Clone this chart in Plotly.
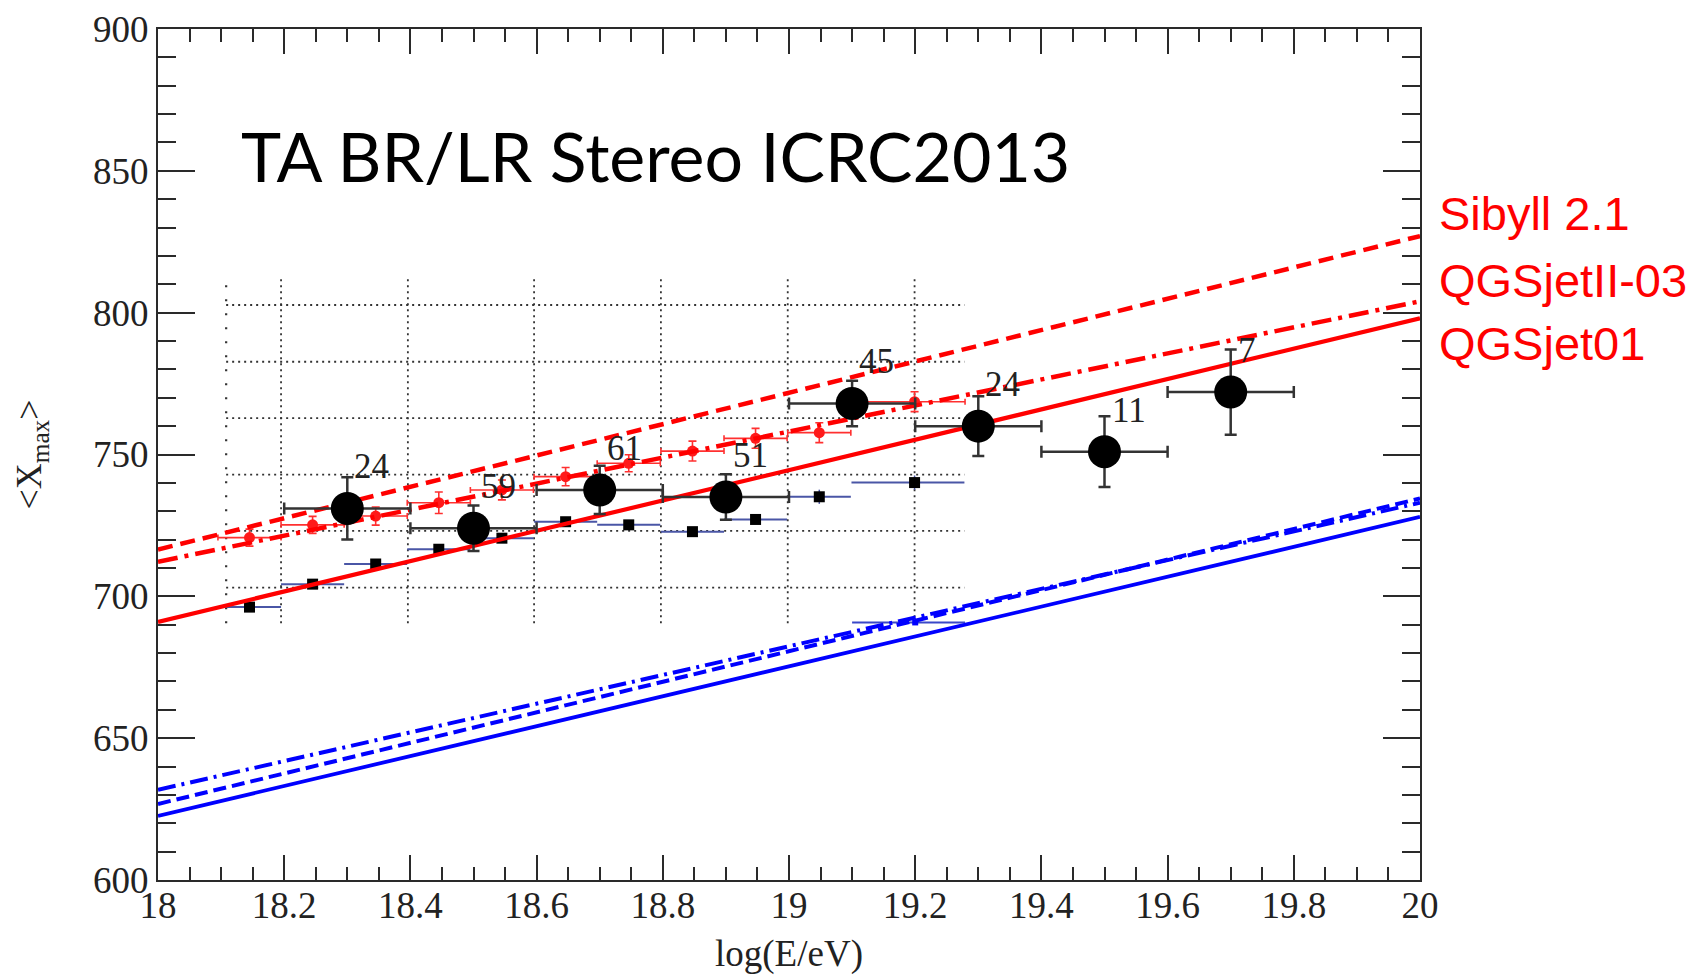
import plotly.graph_objects as go

# ---------------- data ----------------
# main TA BR/LR stereo points
ta_x = [18.3, 18.5, 18.7, 18.9, 19.1, 19.3, 19.5, 19.7]
ta_y = [731, 724, 737.5, 735, 768, 760, 751, 772]
ta_yerr = [11, 8, 8.5, 8, 8, 10.5, 12.5, 15]
ta_xerr = [0.1, 0.1, 0.1, 0.1, 0.1, 0.1, 0.1, 0.1]
ta_counts = ["24", "59", "61", "51", "45", "24", "11", "7"]

# inset: red points
in_red_x = [18.145, 18.245, 18.345, 18.445, 18.545, 18.646, 18.746, 18.847, 18.947, 19.048, 19.199]
in_red_y = [720.7, 725.2, 728.3, 733.0, 737.5, 742.2, 746.9, 751.2, 755.7, 757.7, 768.6]
in_red_yerr = [3, 3, 3.2, 3.8, 3.5, 3.2, 3, 3.5, 3.5, 3.5, 3.5]
in_red_xerr = [0.05, 0.05, 0.05, 0.05, 0.05, 0.05, 0.05, 0.05, 0.05, 0.05, 0.08]

# inset: black squares
in_sq_x = [18.145, 18.245, 18.345, 18.445, 18.545, 18.646, 18.746, 18.847, 18.947, 19.048, 19.199]
in_sq_y = [696.2, 704.3, 711.4, 716.6, 720.5, 726.3, 725.2, 722.8, 727.1, 735.1, 740.1]
in_sq_xerr_plus = [0.05, 0.05, 0.05, 0.05, 0.05, 0.05, 0.05, 0.05, 0.05, 0.05, 0.079]
in_sq_xerr_minus = [0.037, 0.05, 0.05, 0.05, 0.05, 0.05, 0.05, 0.05, 0.05, 0.05, 0.1]
in_sq_yerr = [1.5, 1.5, 1.5, 1.5, 1.5, 1.5, 1.5, 1.5, 1.5, 2.5, 2.5]

# inset: clipped point at the bottom edge
in_low_x = [19.2]
in_low_y = [690.8]
in_low_xerr_plus = [0.079]
in_low_xerr_minus = [0.1]

# model lines (endpoints at log E = 18 and 20)
line_x = [18.0, 20.0]
p_sibyll = [716.5, 827.0]
p_qgsjet2 = [712.2, 804.0]
p_qgsjet01 = [691.0, 798.0]
fe_sibyll = [626.8, 734.5]
fe_qgsjet2 = [631.8, 733.0]
fe_qgsjet01 = [622.6, 728.0]

# inset grid
inset_grid_x = [18.195, 18.396, 18.596, 18.797, 18.998, 19.199]
inset_grid_y = [703.1, 723.1, 742.9, 762.8, 782.7, 802.7]
inset_x_range = [18.108, 19.278]
inset_y_range = [690.5, 812.7]

model_names = ["Sibyll 2.1", "QGSjetII-03", "QGSjet01"]
x_ticks = [18, 18.2, 18.4, 18.6, 18.8, 19, 19.2, 19.4, 19.6, 19.8, 20]
y_ticks = [600, 650, 700, 750, 800, 850, 900]

SERIF = "Liberation Serif, Times New Roman, serif"
AX = "#2a2a2a"

fig = go.Figure()

# inset grid as shapes
shapes = []
for gx in inset_grid_x:
    shapes.append(dict(type="line", xref="x", yref="y", x0=gx, x1=gx,
                       y0=inset_y_range[0], y1=inset_y_range[1],
                       line=dict(color="#333", width=1.8, dash="2px,4px"), layer="below"))
for gy in inset_grid_y:
    shapes.append(dict(type="line", xref="x", yref="y", x0=inset_x_range[0], x1=inset_x_range[1],
                       y0=gy, y1=gy,
                       line=dict(color="#333", width=1.8, dash="2px,4px"), layer="below"))
# inset left axis
shapes.append(dict(type="line", xref="x", yref="y", x0=inset_x_range[0], x1=inset_x_range[0],
                   y0=inset_y_range[0], y1=inset_y_range[1],
                   line=dict(color="#333", width=2.2, dash="2px,12px"), layer="below"))

# inset black squares with blue bars
fig.add_trace(go.Scatter(
    x=in_sq_x, y=in_sq_y, mode="markers",
    marker=dict(symbol="square", size=11, color="black"),
    error_x=dict(type="data", symmetric=False, array=in_sq_xerr_plus, arrayminus=in_sq_xerr_minus,
                 color="#4a56a6", thickness=2, width=0),
    error_y=dict(type="data", array=in_sq_yerr, color="#4a56a6", thickness=1.5, width=0),
    showlegend=False, hoverinfo="skip"))

fig.add_trace(go.Scatter(
    x=in_low_x, y=in_low_y, mode="markers",
    marker=dict(symbol="square", size=6, color="blue"),
    error_x=dict(type="data", symmetric=False, array=in_low_xerr_plus, arrayminus=in_low_xerr_minus,
                 color="#3a48c8", thickness=2, width=0),
    showlegend=False, hoverinfo="skip"))

# inset red points
fig.add_trace(go.Scatter(
    x=in_red_x, y=in_red_y, mode="markers",
    marker=dict(symbol="circle", size=11, color="#ff1a1a"),
    error_x=dict(type="data", array=in_red_xerr, color="#ff3030", thickness=1.6, width=3),
    error_y=dict(type="data", array=in_red_yerr, color="#ff3030", thickness=1.6, width=4),
    showlegend=False, hoverinfo="skip"))

# model lines
def add_line(y, color, dash, width):
    fig.add_trace(go.Scatter(x=line_x, y=y, mode="lines",
                             line=dict(color=color, dash=dash, width=width),
                             showlegend=False, hoverinfo="skip"))

add_line(p_sibyll, "#ff0000", "15px,8px", 4.5)
add_line(p_qgsjet2, "#ff0000", "20px,7px,4px,7px", 4.5)
add_line(p_qgsjet01, "#ff0000", "solid", 4.2)
add_line(fe_sibyll, "#0000ff", "13px,6px", 4)
add_line(fe_qgsjet2, "#0000ff", "18px,6px,3px,6px", 4)
add_line(fe_qgsjet01, "#0000ff", "solid", 3.8)

# main data points
fig.add_trace(go.Scatter(
    x=ta_x, y=ta_y, mode="markers",
    marker=dict(symbol="circle", size=33, color="black"),
    error_x=dict(type="data", array=ta_xerr, color="#333", thickness=2.5, width=6),
    error_y=dict(type="data", array=ta_yerr, color="#333", thickness=2.5, width=6),
    showlegend=False, hoverinfo="skip"))

annotations = []
for xi, yi, c in zip(ta_x, ta_y, ta_counts):
    annotations.append(dict(x=xi, y=yi, xref="x", yref="y", text=c, showarrow=False,
                            xanchor="left", yanchor="bottom", xshift=5, yshift=20,
                            font=dict(family=SERIF, size=35, color="#222")))

annotations.append(dict(x=0.0645, y=0.851, xref="paper", yref="paper",
                        text="TA BR/LR Stereo ICRC2013", showarrow=False,
                        xanchor="left", yanchor="middle",
                        font=dict(family="Lato, Open Sans, sans-serif", size=68, color="black")))

label_y = [0.783, 0.704, 0.6307]
for name, ly in zip(model_names, label_y):
    annotations.append(dict(x=1.0135, y=ly, xref="paper", yref="paper", text=name,
                            showarrow=False, xanchor="left", yanchor="middle",
                            font=dict(family="Liberation Sans, Arial, sans-serif", size=47,
                                      color="#ff0000")))

fig.update_layout(
    width=1699, height=978,
    margin=dict(l=158, r=279, t=29, b=98, autoexpand=False),
    paper_bgcolor="white", plot_bgcolor="white",
    shapes=shapes, annotations=annotations,
    xaxis=dict(range=[18, 20], tickvals=x_ticks, ticktext=[f"{v:g}" for v in x_ticks],
               automargin=False, ticklabelstandoff=-8,
               ticks="inside", ticklen=25, tickwidth=2, tickcolor=AX,
               showline=True, linewidth=2, linecolor=AX, mirror="ticks",
               showgrid=False, zeroline=False,
               minor=dict(ticks="inside", ticklen=13, dtick=0.05, tickwidth=2, tickcolor=AX,
                          showgrid=False),
               tickfont=dict(family=SERIF, size=37, color="#222"),
               title=dict(text="log(E/eV)", font=dict(family=SERIF, size=37, color="#222"),
                          standoff=15)),
    yaxis=dict(range=[600, 900], tickvals=y_ticks,
               automargin=False,
               ticks="inside", ticklen=37, tickwidth=2, tickcolor=AX,
               showline=True, linewidth=2, linecolor=AX, mirror="ticks",
               showgrid=False, zeroline=False,
               minor=dict(ticks="inside", ticklen=18, dtick=10, tickwidth=2, tickcolor=AX,
                          showgrid=False),
               tickfont=dict(family=SERIF, size=37, color="#222"),
               title=dict(text="&lt;X<sub>max</sub>&gt;", font=dict(family=SERIF, size=36, color="#222"),
                          standoff=40)),
)

fig.write_html("out.html")
